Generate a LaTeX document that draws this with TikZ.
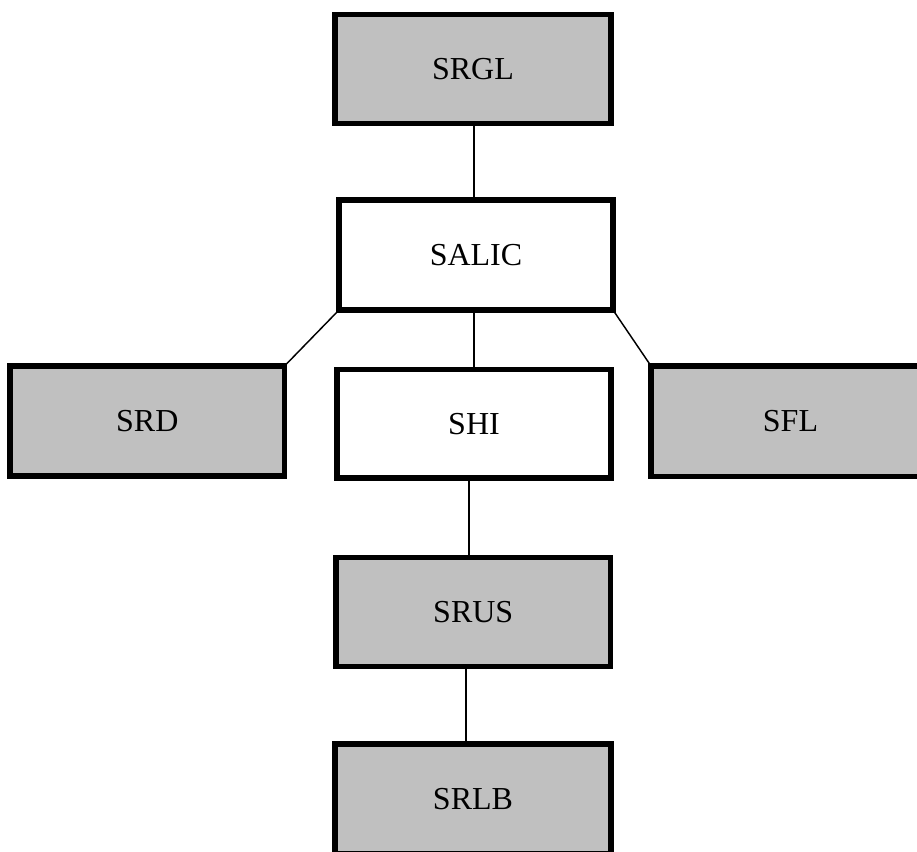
\documentclass[tikz,border=0pt]{standalone}
\usepackage{fontspec}
\setmainfont{Liberation Serif}
\definecolor{boxgray}{RGB}{192,192,192}
\begin{document}
\begin{tikzpicture}[x=0.75pt,y=-0.75pt,
  box/.style={draw=black, line width=3.8pt, rectangle, outer sep=0pt, inner sep=0pt,
    font=\fontsize{24}{28}\selectfont, text=black},
  graybox/.style={box, fill=boxgray},
  whitebox/.style={box, fill=white},
  link/.style={draw=black, line width=1.1pt}]
\useasboundingbox (0,0) rectangle (917,852);
\clip (0,0) rectangle (917,852);
\fill[white] (0,0) rectangle (917,852);
% boxes
\node[graybox, minimum width=207pt, minimum height=81.75pt] (SRGL) at (473,69) {SRGL};
\node[whitebox, minimum width=205.5pt, minimum height=82.5pt] (SALIC) at (476,255) {SALIC};
\node[graybox, minimum width=205.9pt, minimum height=82.5pt] (SRD) at (147.25,421) {SRD};
\node[whitebox, minimum width=205.5pt, minimum height=81.4pt] (SHI) at (474,423.75) {SHI};
\node[graybox, minimum width=209.25pt, minimum height=82.9pt] (SFL) at (790.5,421.25) {SFL};
\node[graybox, minimum width=205.9pt, minimum height=81.9pt] (SRUS) at (473.25,612.1) {SRUS};
\node[graybox, minimum width=207pt, minimum height=82.5pt] (SRLB) at (473,799) {SRLB};
% connectors
\draw[link] ([xshift=0.75pt]SRGL.south) -- ([xshift=0.75pt]SRGL.south |- SALIC.north);
\draw[link] ([xshift=-1.5pt]SALIC.south) -- ([xshift=-1.5pt]SALIC.south |- SHI.north);
\draw[link] ([xshift=-3.75pt]SHI.south) -- ([xshift=-3.75pt]SHI.south |- SRUS.north);
\draw[link] ([xshift=-5.44pt]SRUS.south) -- ([xshift=-5.44pt]SRUS.south |- SRLB.north);
\draw[link] (SALIC.south west) -- (SRD.north east);
\draw[link] (SALIC.south east) -- (SFL.north west);
\end{tikzpicture}
\end{document}
